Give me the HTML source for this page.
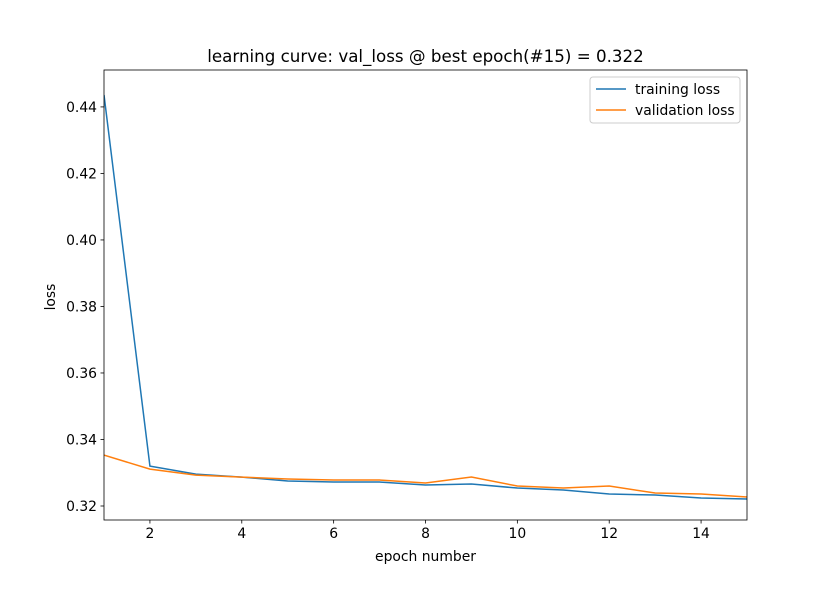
<!DOCTYPE html>
<html><head><meta charset="utf-8"><style>
body{margin:0;background:#fff;}
svg{font-family:"DejaVu Sans","Liberation Sans",sans-serif;}
</style></head><body>
<svg id="chart" width="830" height="585"></svg>
<script>
const epochs=[1,2,3,4,5,6,7,8,9,10,11,12,13,14,15];
const trainLoss=[0.4436,0.332,0.3296,0.3287,0.3275,0.3272,0.3272,0.3263,0.3266,0.3254,0.3248,0.3236,0.3233,0.3224,0.3221];
const valLoss=[0.3353,0.3311,0.3293,0.3287,0.3281,0.3278,0.3278,0.3269,0.3287,0.326,0.3254,0.326,0.3239,0.3236,0.3227];
const xTicks=[2,4,6,8,10,12,14];
const yTicks=[0.32,0.34,0.36,0.38,0.40,0.42,0.44];
const yTickLabels=["0.32","0.34","0.36","0.38","0.40","0.42","0.44"];

const L=104,R=747,T=70,B=520;
const xMin=1,xMax=15,yMin=0.31579,yMax=0.4511;
const xs=v=>L+(v-xMin)/(xMax-xMin)*(R-L);
const ys=v=>B-(v-yMin)/(yMax-yMin)*(B-T);
const NS="http://www.w3.org/2000/svg";
const svg=document.getElementById('chart');
function mk(tag,attrs,parent){const e=document.createElementNS(NS,tag);for(const k in attrs)e.setAttribute(k,attrs[k]);(parent||svg).appendChild(e);return e;}

const clip=mk('clipPath',{id:'c'});mk('rect',{x:L,y:T,width:R-L,height:B-T},clip);
const g=mk('g',{'clip-path':'url(#c)'});
function lineIn(data,color,name){
  const p=mk('polyline',{points:data.map((v,i)=>xs(epochs[i])+','+ys(v)).join(' '),fill:'none',stroke:color,'stroke-width':1.5},g);
  
  
}
lineIn(trainLoss,'#1f77b4','training-loss-line');
lineIn(valLoss,'#ff7f0e','validation-loss-line');

const frame=mk('rect',{x:L,y:T,width:R-L,height:B-T,fill:'none',stroke:'#000','stroke-width':0.8});



const FS=13.9;
xTicks.forEach(v=>{
  const x=xs(v);
  mk('line',{x1:x,x2:x,y1:B,y2:B+3.5,stroke:'#000','stroke-width':0.8});
  const t=mk('text',{x:x,y:B+18,'text-anchor':'middle','font-size':FS});
  t.textContent=v;
  
  
});
yTicks.forEach((v,i)=>{
  const y=ys(v);
  mk('line',{x1:L-3.5,x2:L,y1:y,y2:y,stroke:'#000','stroke-width':0.8});
  const t=mk('text',{x:L-7,y:y+5,'text-anchor':'end','font-size':FS});
  t.textContent=yTickLabels[i];
  
  
});
let t=mk('text',{x:(L+R)/2,y:561,'text-anchor':'middle','font-size':FS});t.textContent='epoch number';


t=mk('text',{x:0,y:0,'text-anchor':'middle','font-size':FS,transform:'translate(55,297) rotate(-90)'});t.textContent='loss';


t=mk('text',{x:(L+R)/2,y:62,'text-anchor':'middle','font-size':16.7});t.textContent='learning curve: val_loss @ best epoch(#15) = 0.322';



const lg=mk('g',{});


mk('rect',{x:590,y:77,width:150,height:46,rx:3,fill:'#fff',stroke:'#ccc','stroke-width':1},lg);
mk('line',{x1:596,x2:626,y1:89,y2:89,stroke:'#1f77b4','stroke-width':1.5},lg);
mk('line',{x1:596,x2:626,y1:110,y2:110,stroke:'#ff7f0e','stroke-width':1.5},lg);
t=mk('text',{x:635,y:94,'font-size':FS},lg);t.textContent='training loss';


t=mk('text',{x:635,y:115,'font-size':FS},lg);t.textContent='validation loss';


</script>
</body></html>
